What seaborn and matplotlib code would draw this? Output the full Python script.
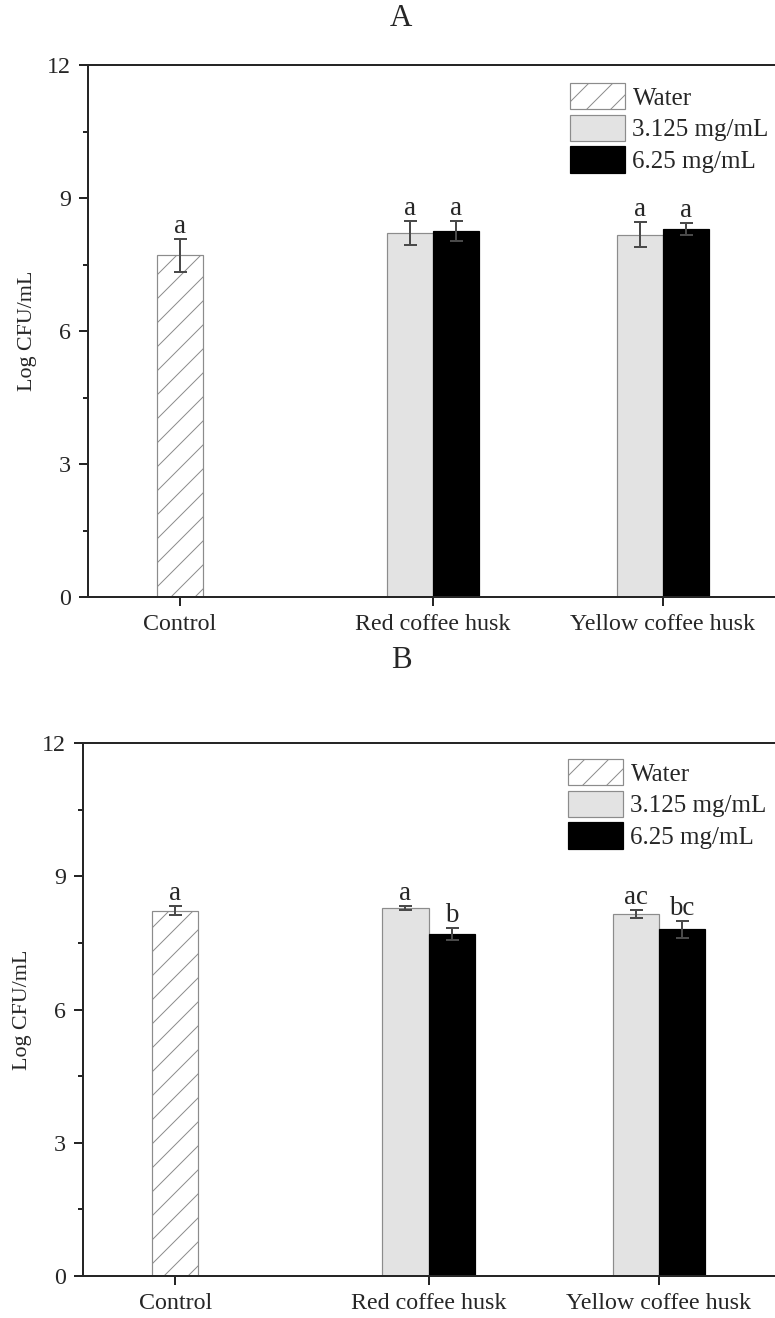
import numpy as np
import pandas as pd
import matplotlib
matplotlib.use("Agg")
import matplotlib.pyplot as plt
from matplotlib.patches import Patch
from matplotlib.ticker import AutoMinorLocator
import seaborn as sns

# 数据
groups = ["Control", "Red coffee husk", "Yellow coffee husk"]
series = ["Water", "3.125 mg/mL", "6.25 mg/mL"]
group_pos = [0.0, 5.5, 10.5]

# 每根柱子: 组, 系列, 组内偏移
bar_group = ["Control", "Red coffee husk", "Red coffee husk", "Yellow coffee husk", "Yellow coffee husk"]
bar_series = ["Water", "3.125 mg/mL", "6.25 mg/mL", "3.125 mg/mL", "6.25 mg/mL"]
bar_offset = [0.0, -0.5, 0.5, -0.5, 0.5]

mean_A = [7.71, 8.21, 8.26, 8.17, 8.30]
err_A = [0.37, 0.26, 0.22, 0.28, 0.13]
letters_A = ["a", "a", "a", "a", "a"]

mean_B = [8.22, 8.28, 7.70, 8.15, 7.81]
err_B = [0.10, 0.04, 0.14, 0.10, 0.19]
letters_B = ["a", "a", "b", "ac", "bc"]

colors = {"Water": "white", "3.125 mg/mL": "#e3e3e3", "6.25 mg/mL": "black"}
edges = {"Water": "#8c8c8c", "3.125 mg/mL": "#8c8c8c", "6.25 mg/mL": "black"}
hatches = {"Water": "/", "3.125 mg/mL": "", "6.25 mg/mL": ""}

sns.set_style("ticks")
plt.rcParams["font.family"] = ["Liberation Serif", "DejaVu Serif"]
plt.rcParams["hatch.linewidth"] = 1.0

W, H = 775, 1318
fig = plt.figure(figsize=(W / 72, H / 72), dpi=72)


def make_df(means, errs, letters):
    pos = [group_pos[groups.index(g)] + o for g, o in zip(bar_group, bar_offset)]
    return pd.DataFrame({"group": bar_group, "series": bar_series, "x": pos,
                         "mean": means, "err": errs, "letter": letters})


def draw_panel(rect, df, title, title_y, leg_xy):
    ax = fig.add_axes(rect)
    sns.barplot(data=df, x="x", y="mean", hue="series", hue_order=series,
                palette=colors, native_scale=True, dodge=False, width=1.0,
                saturation=1, errorbar=None, legend=False, ax=ax)
    lookup = {round(x, 2): s for x, s in zip(df["x"], df["series"])}
    for p in ax.patches:
        s = lookup.get(round(p.get_x() + p.get_width() / 2, 2))
        if s is None:
            continue
        p.set_edgecolor(edges[s])
        p.set_linewidth(1.2)
        p.set_hatch(hatches[s])

    ax.errorbar(df["x"], df["mean"], yerr=df["err"], fmt="none", ecolor="#4a4a4a",
                elinewidth=2, capsize=6.5, capthick=2, zorder=5)
    for x, m, e, t in zip(df["x"], df["mean"], df["err"], df["letter"]):
        ax.annotate(t, (x, m + e), xytext=(0, 0), textcoords="offset points",
                    ha="center", va="bottom", fontsize=27)

    ax.set_xlim(-2.0, 13.26)
    ax.set_ylim(0, 12)
    ax.set_yticks([0, 3, 6, 9, 12])
    ax.yaxis.set_minor_locator(AutoMinorLocator(2))
    ax.set_xticks(group_pos, labels=groups)
    ax.tick_params(axis="both", which="major", labelsize=24, length=9, width=2,
                   direction="out", pad=8)
    ax.tick_params(axis="y", which="minor", length=5, width=2, direction="out")
    ax.set_xlabel("")
    ax.set_ylabel("Log CFU/mL", fontsize=22)
    ax.yaxis.set_label_coords(-0.073, 0.5)
    for sp in ["left", "bottom", "top"]:
        ax.spines[sp].set_linewidth(2)
    ax.spines["right"].set_visible(False)

    handles = [Patch(facecolor=colors[s], edgecolor=edges[s], hatch=hatches[s], linewidth=1.2)
               for s in series]
    ax.legend(handles, series, loc="upper left", bbox_to_anchor=leg_xy,
              bbox_transform=fig.transFigure, frameon=False, fontsize=25,
              handlelength=2.2, handleheight=1.25, labelspacing=0.2,
              handletextpad=0.3, borderpad=0, borderaxespad=0)
    fig.text(title_x, title_y, title, ha="center", va="center", fontsize=31)
    return ax


title_x = 401 / W
dfA = make_df(mean_A, err_A, letters_A)
dfB = make_df(mean_B, err_B, letters_B)

draw_panel([88 / W, 1 - 597 / H, (790 - 88) / W, (597 - 65) / H], dfA, "A",
           1 - 19 / H, (570 / W, 1 - 83 / H))
draw_panel([83 / W, 1 - 1276 / H, (786 - 83) / W, (1276 - 743) / H], dfB, "B",
           1 - 660 / H, (568 / W, 1 - 759 / H))

fig.savefig("out.png", dpi=72)
